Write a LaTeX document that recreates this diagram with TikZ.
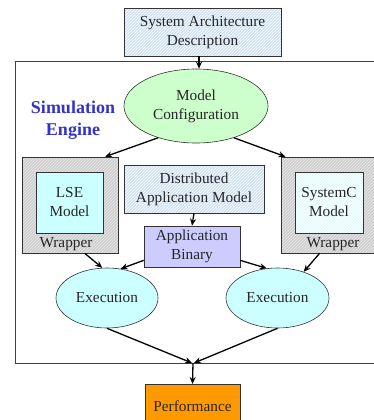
\documentclass[tikz,border=0pt]{standalone}
\usepackage{fontspec}
\setmainfont{Liberation Serif}
\usetikzlibrary{arrows.meta,patterns,shapes.geometric}
\definecolor{hatchblue}{RGB}{208,226,245}
\definecolor{wrapgray}{RGB}{205,205,205}
\definecolor{lightcyan}{RGB}{204,255,255}
\definecolor{palecyan}{RGB}{228,252,252}
\definecolor{lightgreen}{RGB}{204,255,204}
\definecolor{lavender}{RGB}{204,204,255}
\definecolor{orangefill}{RGB}{255,153,0}
\definecolor{engineblue}{RGB}{51,51,204}
\tikzset{
  txt/.style={font=\fontsize{15.3}{19}\selectfont, align=center, text=black!85, inner sep=0pt},
  hatchbox/.style={txt, draw=black!80, line width=0.6pt, preaction={fill=hatchblue}, pattern=north east lines, pattern color=white},
  wrapbox/.style={draw=black!80, line width=0.6pt, preaction={fill=wrapgray}, pattern=north east lines, pattern color=white!85!gray, inner sep=0pt},
  innerbox/.style={txt, draw=black!80, line width=0.6pt},
  ell/.style={txt, ellipse, draw=black!80, line width=0.6pt},
  conn/.style={line width=1.3pt, -{Stealth[length=7pt,width=6pt]}},
}
\begin{document}
\begin{tikzpicture}[x=1pt,y=-1pt]
\useasboundingbox (0,0) rectangle (374,420);
\clip (0,0) rectangle (374,420);
% outer engine frame
\draw[line width=1pt, black!75] (15,62) rectangle (380,363);
\node[font=\fontsize{18}{22}\selectfont\bfseries, text=engineblue, align=center] (eng) at (73,120) {Simulation\\Engine};
% nodes
\node[hatchbox, minimum width=157pt, minimum height=48pt] (sad) at (202.5,32) {System Architecture\\Description};
\node[ell, fill=lightgreen, minimum width=144pt, minimum height=74pt] (mc) at (196,106) {Model\\Configuration};
\node[wrapbox, minimum width=96pt, minimum height=96pt] (lw) at (70,205) {};
\node[innerbox, fill=lightcyan, minimum width=67pt, minimum height=61pt] (lse) at (69.5,202.5) {LSE\\Model};
\node[txt] (lwt) at (66,244) {Wrapper};
\node[wrapbox, minimum width=96pt, minimum height=96pt] (rw) at (329,205) {};
\node[innerbox, preaction={fill=palecyan}, pattern=north east lines, pattern color=white, minimum width=68pt, minimum height=61pt] (sc) at (329,202.5) {SystemC\\Model};
\node[txt] (rwt) at (333,244) {Wrapper};
\node[hatchbox, minimum width=140pt, minimum height=48pt] (dam) at (194,189) {Distributed\\Application Model};
\node[innerbox, fill=lavender, minimum width=96pt, minimum height=41pt] (ab) at (192,246.5) {Application\\Binary};
\node[ell, fill=lightcyan, minimum width=102pt, minimum height=60pt] (el) at (107,298) {Execution};
\node[ell, fill=lightcyan, minimum width=103pt, minimum height=60pt] (er) at (277.5,298) {Execution};
\node[innerbox, fill=orangefill, minimum width=95pt, minimum height=46pt, anchor=north] (perf) at (192.5,384) {};
\node[txt] (perft) at (192.5,406) {Performance};
\coordinate (meet) at (193,363);
% connectors
\draw[conn] ([xshift=-3.5pt]sad.south) -- ([xshift=3pt]mc.north);
\draw[conn] (mc.220) -- (lw.54);
\draw[conn] (mc.320) -- (rw.132);
\draw[conn] (dam.south) -- (ab.north);
\draw[conn] (lw.287) -- (el.99);
\draw[conn] (ab.196) -- (el.65);
\draw[conn] (ab.344) -- (er.110);
\draw[conn] (rw.259) -- (er.45);
\draw[conn] (el.south) -- ([xshift=-1pt]meet);
\draw[conn] (er.south) -- ([xshift=1pt]meet);
\draw[conn] (meet) -- (perf.north);
\end{tikzpicture}
\end{document}
